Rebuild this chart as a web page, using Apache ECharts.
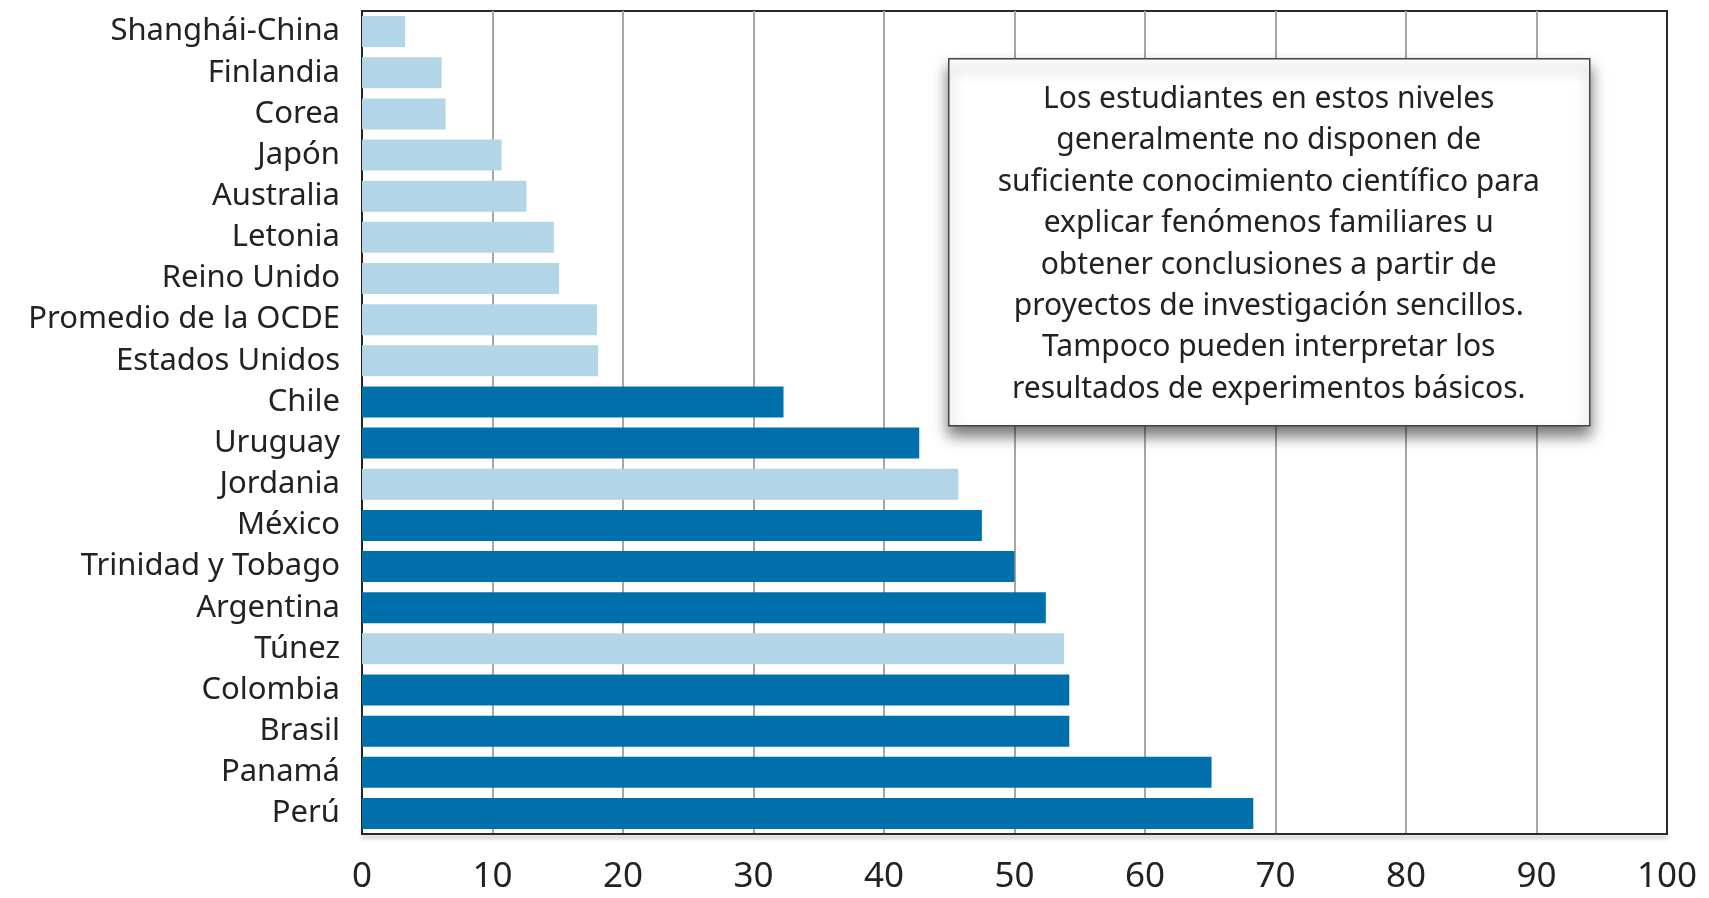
<!DOCTYPE html>
<html>
<head>
<meta charset="utf-8">
<script src="https://cdn.jsdelivr.net/npm/echarts@6/dist/echarts.min.js"></script>
<style>
  html, body { margin: 0; padding: 0; background: #fff; }
  #chart { width: 1709px; height: 898px; }
</style>
</head>
<body>
<div id="chart"></div>
<script>
  // countries, top to bottom
  const countries = [
    'Shanghái-China', 'Finlandia', 'Corea', 'Japón', 'Australia', 'Letonia',
    'Reino Unido', 'Promedio de la OCDE', 'Estados Unidos', 'Chile', 'Uruguay',
    'Jordania', 'México', 'Trinidad y Tobago', 'Argentina', 'Túnez',
    'Colombia', 'Brasil', 'Panamá', 'Perú'
  ];
  // % of students below level 2
  const values = [
    3.3, 6.1, 6.4, 10.7, 12.6, 14.7,
    15.1, 18.0, 18.1, 32.3, 42.7,
    45.7, 47.5, 50.0, 52.4, 53.8,
    54.2, 54.2, 65.1, 68.3
  ];
  // countries drawn in the dark colour
  const latinAmerica = [
    'Chile', 'Uruguay', 'México', 'Trinidad y Tobago', 'Argentina',
    'Colombia', 'Brasil', 'Panamá', 'Perú'
  ];
  const xTicks = [0, 10, 20, 30, 40, 50, 60, 70, 80, 90, 100];
  const noteLines = [
    'Los estudiantes en estos niveles',
    'generalmente no disponen de',
    'suficiente conocimiento científico para',
    'explicar fenómenos familiares u',
    'obtener conclusiones a partir de',
    'proyectos de investigación sencillos.',
    'Tampoco pueden interpretar los',
    'resultados de experimentos básicos.'
  ];

  const DARK = '#0070AD';
  const LIGHT = '#B2D5E8';
  const FONT = '"Noto Sans", sans-serif';

  const chart = echarts.init(document.getElementById('chart'));

  const option = {
    animation: false,
    backgroundColor: '#fff',
    grid: {
      left: 362,
      right: 42,
      top: 11,
      bottom: 64,
      show: true,
      borderColor: '#2a2a2a',
      borderWidth: 2,
      backgroundColor: 'transparent'
    },
    xAxis: {
      type: 'value',
      min: xTicks[0],
      max: xTicks[xTicks.length - 1],
      interval: 10,
      axisLine: {
        show: true,
        lineStyle: {
          color: '#2a2a2a',
          width: 2,
          shadowColor: 'rgba(0,0,0,0.35)',
          shadowBlur: 4,
          shadowOffsetY: 3
        }
      },
      axisTick: { show: false },
      axisLabel: {
        margin: 26,
        color: '#222',
        fontFamily: FONT,
        fontSize: 35
      },
      splitLine: {
        show: true,
        showMinLine: false,
        showMaxLine: false,
        lineStyle: { color: '#a6a6a6', width: 2 }
      }
    },
    yAxis: {
      type: 'category',
      inverse: true,
      data: countries,
      axisLine: { show: true, lineStyle: { color: '#222', width: 2 } },
      axisTick: { show: false },
      axisLabel: {
        interval: 0,
        margin: 22,
        color: '#222',
        fontFamily: FONT,
        fontSize: 31
      },
      splitLine: { show: false }
    },
    series: [
      {
        type: 'bar',
        barWidth: 31,
        data: values.map((v, i) => ({
          value: v,
          itemStyle: { color: latinAmerica.includes(countries[i]) ? DARK : LIGHT }
        }))
      }
    ],
    graphic: [
      {
        type: 'group',
        left: 948,
        top: 58,
        zlevel: 1,
        children: [
          {
            type: 'rect',
            z: 100,
            shape: { x: 0, y: 0, width: 641, height: 367 },
            style: {
              fill: '#fff',
              stroke: '#444',
              lineWidth: 1.5,
              shadowColor: 'rgba(0,0,0,0.55)',
              shadowBlur: 14,
              shadowOffsetY: 9
            }
          },
          {
            type: 'text',
            z: 101,
            x: 320,
            y: 20,
            style: {
              text: noteLines.join('\n'),
              align: 'center',
              verticalAlign: 'top',
              fontFamily: FONT,
              fontSize: 30,
              lineHeight: 41.4,
              fill: '#222'
            }
          }
        ]
      }
    ]
  };

  chart.setOption(option);
</script>
</body>
</html>
